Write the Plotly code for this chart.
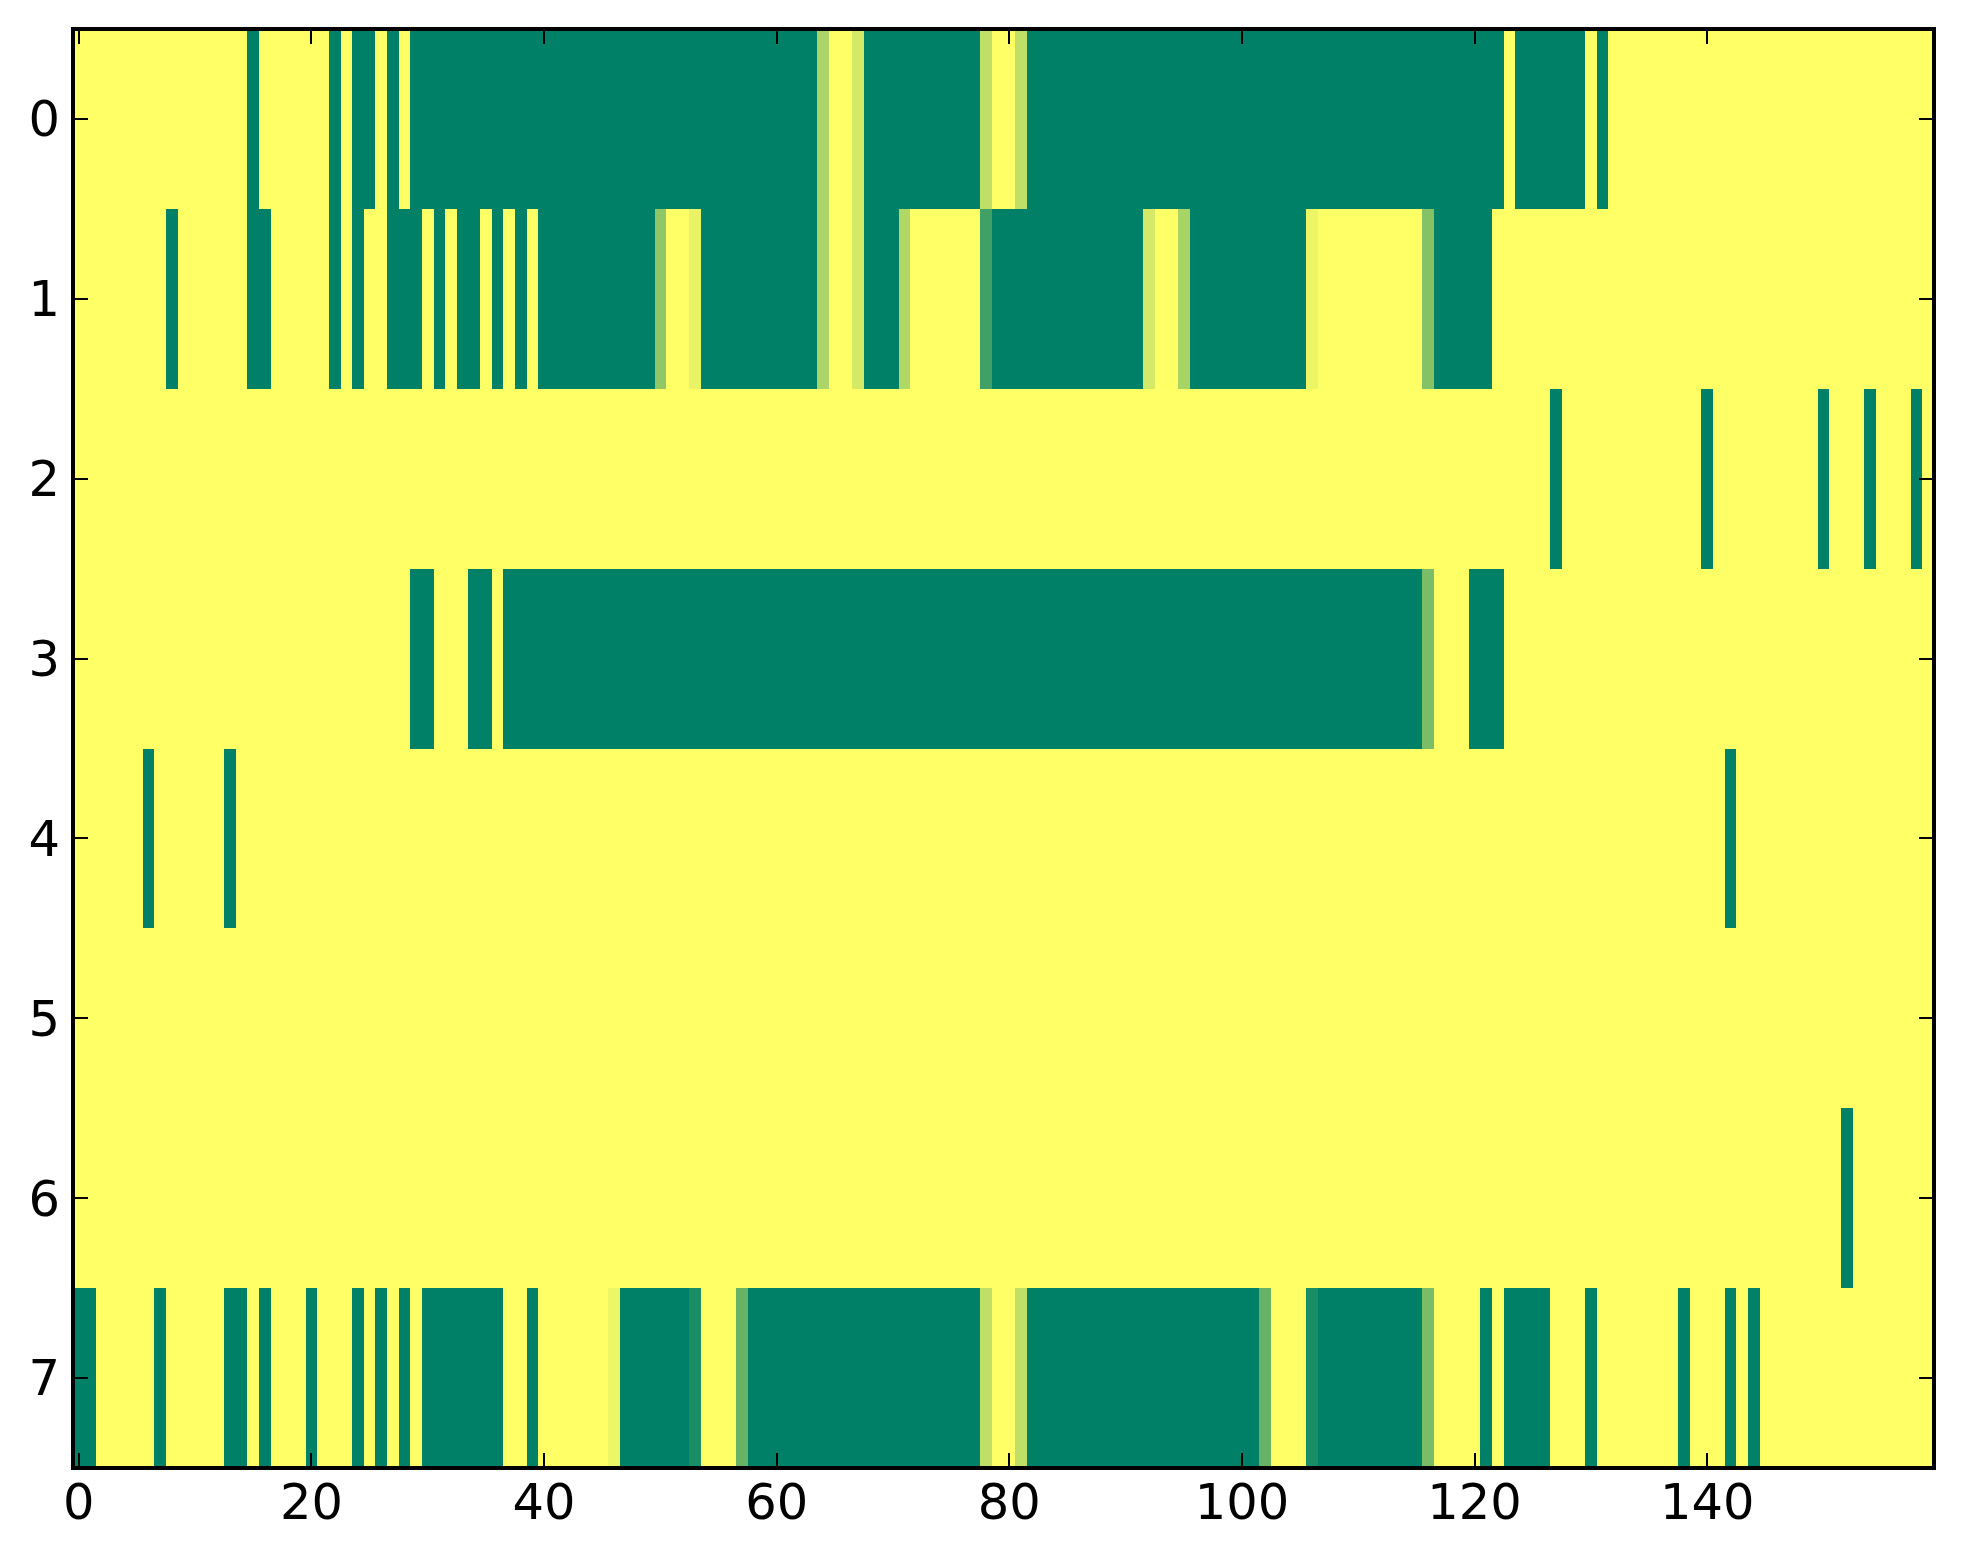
import plotly.graph_objects as go

# one list per image row, 20 columns per line
row0 = [
    0, 0, 0, 0, 0, 0, 0, 0, 0, 0, 0, 0, 0, 0, 0, 1, 0, 0, 0, 0,
    0, 0, 1, 0, 1, 1, 0, 1, 0, 1, 1, 1, 1, 1, 1, 1, 1, 1, 1, 1,
    1, 1, 1, 1, 1, 1, 1, 1, 1, 1, 1, 1, 1, 1, 1, 1, 1, 1, 1, 1,
    1, 1, 1, 1, .33, 0, 0, .17, 1, 1, 1, 1, 1, 1, 1, 1, 1, 1, .25, 0,
    0, .25, 1, 1, 1, 1, 1, 1, 1, 1, 1, 1, 1, 1, 1, 1, 1, 1, 1, 1,
    1, 1, 1, 1, 1, 1, 1, 1, 1, 1, 1, 1, 1, 1, 1, 1, 1, 1, 1, 1,
    1, 1, 1, 0, 1, 1, 1, 1, 1, 1, 0, 1, 0, 0, 0, 0, 0, 0, 0, 0,
    0, 0, 0, 0, 0, 0, 0, 0, 0, 0, 0, 0, 0, 0, 0, 0, 0, 0, 0, 0,
]
row1 = [
    0, 0, 0, 0, 0, 0, 0, 0, 1, 0, 0, 0, 0, 0, 0, 1, 1, 0, 0, 0,
    0, 0, 1, 0, 1, 0, 0, 1, 1, 1, 0, 1, 0, 1, 1, 0, 1, 0, 1, 0,
    1, 1, 1, 1, 1, 1, 1, 1, 1, 1, .44, 0, 0, .09, 1, 1, 1, 1, 1, 1,
    1, 1, 1, 1, .33, 0, 0, .17, 1, 1, 1, .31, 0, 0, 0, 0, 0, 0, .75, 1,
    1, 1, 1, 1, 1, 1, 1, 1, 1, 1, 1, 1, .17, 0, 0, .34, 1, 1, 1, 1,
    1, 1, 1, 1, 1, 1, .08, 0, 0, 0, 0, 0, 0, 0, 0, 0, .48, 1, 1, 1,
    1, 1, 0, 0, 0, 0, 0, 0, 0, 0, 0, 0, 0, 0, 0, 0, 0, 0, 0, 0,
    0, 0, 0, 0, 0, 0, 0, 0, 0, 0, 0, 0, 0, 0, 0, 0, 0, 0, 0, 0,
]
row2 = [
    0, 0, 0, 0, 0, 0, 0, 0, 0, 0, 0, 0, 0, 0, 0, 0, 0, 0, 0, 0,
    0, 0, 0, 0, 0, 0, 0, 0, 0, 0, 0, 0, 0, 0, 0, 0, 0, 0, 0, 0,
    0, 0, 0, 0, 0, 0, 0, 0, 0, 0, 0, 0, 0, 0, 0, 0, 0, 0, 0, 0,
    0, 0, 0, 0, 0, 0, 0, 0, 0, 0, 0, 0, 0, 0, 0, 0, 0, 0, 0, 0,
    0, 0, 0, 0, 0, 0, 0, 0, 0, 0, 0, 0, 0, 0, 0, 0, 0, 0, 0, 0,
    0, 0, 0, 0, 0, 0, 0, 0, 0, 0, 0, 0, 0, 0, 0, 0, 0, 0, 0, 0,
    0, 0, 0, 0, 0, 0, 0, 1, 0, 0, 0, 0, 0, 0, 0, 0, 0, 0, 0, 0,
    1, 0, 0, 0, 0, 0, 0, 0, 0, 0, 1, 0, 0, 0, 1, 0, 0, 0, 1, 0,
]
row3 = [
    0, 0, 0, 0, 0, 0, 0, 0, 0, 0, 0, 0, 0, 0, 0, 0, 0, 0, 0, 0,
    0, 0, 0, 0, 0, 0, 0, 0, 0, 1, 1, 0, 0, 0, 1, 1, 0, 1, 1, 1,
    1, 1, 1, 1, 1, 1, 1, 1, 1, 1, 1, 1, 1, 1, 1, 1, 1, 1, 1, 1,
    1, 1, 1, 1, 1, 1, 1, 1, 1, 1, 1, 1, 1, 1, 1, 1, 1, 1, 1, 1,
    1, 1, 1, 1, 1, 1, 1, 1, 1, 1, 1, 1, 1, 1, 1, 1, 1, 1, 1, 1,
    1, 1, 1, 1, 1, 1, 1, 1, 1, 1, 1, 1, 1, 1, 1, 1, .52, 0, 0, 0,
    1, 1, 1, 0, 0, 0, 0, 0, 0, 0, 0, 0, 0, 0, 0, 0, 0, 0, 0, 0,
    0, 0, 0, 0, 0, 0, 0, 0, 0, 0, 0, 0, 0, 0, 0, 0, 0, 0, 0, 0,
]
row4 = [
    0, 0, 0, 0, 0, 0, 1, 0, 0, 0, 0, 0, 0, 1, 0, 0, 0, 0, 0, 0,
    0, 0, 0, 0, 0, 0, 0, 0, 0, 0, 0, 0, 0, 0, 0, 0, 0, 0, 0, 0,
    0, 0, 0, 0, 0, 0, 0, 0, 0, 0, 0, 0, 0, 0, 0, 0, 0, 0, 0, 0,
    0, 0, 0, 0, 0, 0, 0, 0, 0, 0, 0, 0, 0, 0, 0, 0, 0, 0, 0, 0,
    0, 0, 0, 0, 0, 0, 0, 0, 0, 0, 0, 0, 0, 0, 0, 0, 0, 0, 0, 0,
    0, 0, 0, 0, 0, 0, 0, 0, 0, 0, 0, 0, 0, 0, 0, 0, 0, 0, 0, 0,
    0, 0, 0, 0, 0, 0, 0, 0, 0, 0, 0, 0, 0, 0, 0, 0, 0, 0, 0, 0,
    0, 0, 1, 0, 0, 0, 0, 0, 0, 0, 0, 0, 0, 0, 0, 0, 0, 0, 0, 0,
]
row5 = [
    0, 0, 0, 0, 0, 0, 0, 0, 0, 0, 0, 0, 0, 0, 0, 0, 0, 0, 0, 0,
    0, 0, 0, 0, 0, 0, 0, 0, 0, 0, 0, 0, 0, 0, 0, 0, 0, 0, 0, 0,
    0, 0, 0, 0, 0, 0, 0, 0, 0, 0, 0, 0, 0, 0, 0, 0, 0, 0, 0, 0,
    0, 0, 0, 0, 0, 0, 0, 0, 0, 0, 0, 0, 0, 0, 0, 0, 0, 0, 0, 0,
    0, 0, 0, 0, 0, 0, 0, 0, 0, 0, 0, 0, 0, 0, 0, 0, 0, 0, 0, 0,
    0, 0, 0, 0, 0, 0, 0, 0, 0, 0, 0, 0, 0, 0, 0, 0, 0, 0, 0, 0,
    0, 0, 0, 0, 0, 0, 0, 0, 0, 0, 0, 0, 0, 0, 0, 0, 0, 0, 0, 0,
    0, 0, 0, 0, 0, 0, 0, 0, 0, 0, 0, 0, 0, 0, 0, 0, 0, 0, 0, 0,
]
row6 = [
    0, 0, 0, 0, 0, 0, 0, 0, 0, 0, 0, 0, 0, 0, 0, 0, 0, 0, 0, 0,
    0, 0, 0, 0, 0, 0, 0, 0, 0, 0, 0, 0, 0, 0, 0, 0, 0, 0, 0, 0,
    0, 0, 0, 0, 0, 0, 0, 0, 0, 0, 0, 0, 0, 0, 0, 0, 0, 0, 0, 0,
    0, 0, 0, 0, 0, 0, 0, 0, 0, 0, 0, 0, 0, 0, 0, 0, 0, 0, 0, 0,
    0, 0, 0, 0, 0, 0, 0, 0, 0, 0, 0, 0, 0, 0, 0, 0, 0, 0, 0, 0,
    0, 0, 0, 0, 0, 0, 0, 0, 0, 0, 0, 0, 0, 0, 0, 0, 0, 0, 0, 0,
    0, 0, 0, 0, 0, 0, 0, 0, 0, 0, 0, 0, 0, 0, 0, 0, 0, 0, 0, 0,
    0, 0, 0, 0, 0, 0, 0, 0, 0, 0, 0, 0, 1, 0, 0, 0, 0, 0, 0, 0,
]
row7 = [
    1, 1, 0, 0, 0, 0, 0, 1, 0, 0, 0, 0, 0, 1, 1, 0, 1, 0, 0, 0,
    1, 0, 0, 0, 1, 0, 1, 0, 1, 0, 1, 1, 1, 1, 1, 1, 1, 0, 0, 1,
    0, 0, 0, 0, 0, 0, .07, 1, 1, 1, 1, 1, 1, .9, 0, 0, 0, .6, 1, 1,
    1, 1, 1, 1, 1, 1, 1, 1, 1, 1, 1, 1, 1, 1, 1, 1, 1, 1, .25, 0,
    0, .25, 1, 1, 1, 1, 1, 1, 1, 1, 1, 1, 1, 1, 1, 1, 1, 1, 1, 1,
    1, 1, .6, 0, 0, 0, .9, 1, 1, 1, 1, 1, 1, 1, 1, 1, .52, 0, 0, 0,
    0, 1, 0, 1, 1, 1, 1, 0, 0, 0, 1, 0, 0, 0, 0, 0, 0, 0, 1, 0,
    0, 0, 1, 0, 1, 0, 0, 0, 0, 0, 0, 0, 0, 0, 0, 0, 0, 0, 0, 0,
]

x_ticks = [0, 20, 40, 60, 80, 100, 120, 140]
y_ticks = [0, 1, 2, 3, 4, 5, 6, 7]

# matplotlib's summer_r
summer_r = [[0, "#ffff66"], [1, "#008066"]]

W, H = 1963, 1564
L, R, T, B = 73, 1934, 29, 1468

fig = go.Figure(
    go.Heatmap(
        z=[row0, row1, row2, row3, row4, row5, row6, row7],
        colorscale=summer_r,
        zmin=0,
        zmax=1,
        zsmooth=False,
        showscale=False,
    )
)

axis_style = dict(
    ticks="inside",
    ticklen=15,
    tickwidth=2,
    tickcolor="black",
    mirror="ticks",
    showline=False,
    showgrid=False,
    zeroline=False,
    tickfont=dict(family="DejaVu Sans", size=49.5, color="black"),
)
fig.update_xaxes(range=[-0.5, 159.5], tickvals=x_ticks, **axis_style)
fig.update_yaxes(range=[7.5, -0.5], tickvals=y_ticks, ticklabelstandoff=12, **axis_style)

# frame drawn as a shape so it sits centred on the plot edge, like mpl spines
fig.add_shape(
    type="rect", xref="paper", yref="paper", x0=0, x1=1, y0=0, y1=1,
    line=dict(color="black", width=4), layer="above",
)

fig.update_layout(
    width=W,
    height=H,
    margin=dict(l=L, r=W - R, t=T, b=H - B, pad=0),
    paper_bgcolor="white",
    plot_bgcolor="white",
)

fig.write_html(
    "out.html",
    config={"displayModeBar": False},
    post_script="document.body.style.margin='0';",
)
